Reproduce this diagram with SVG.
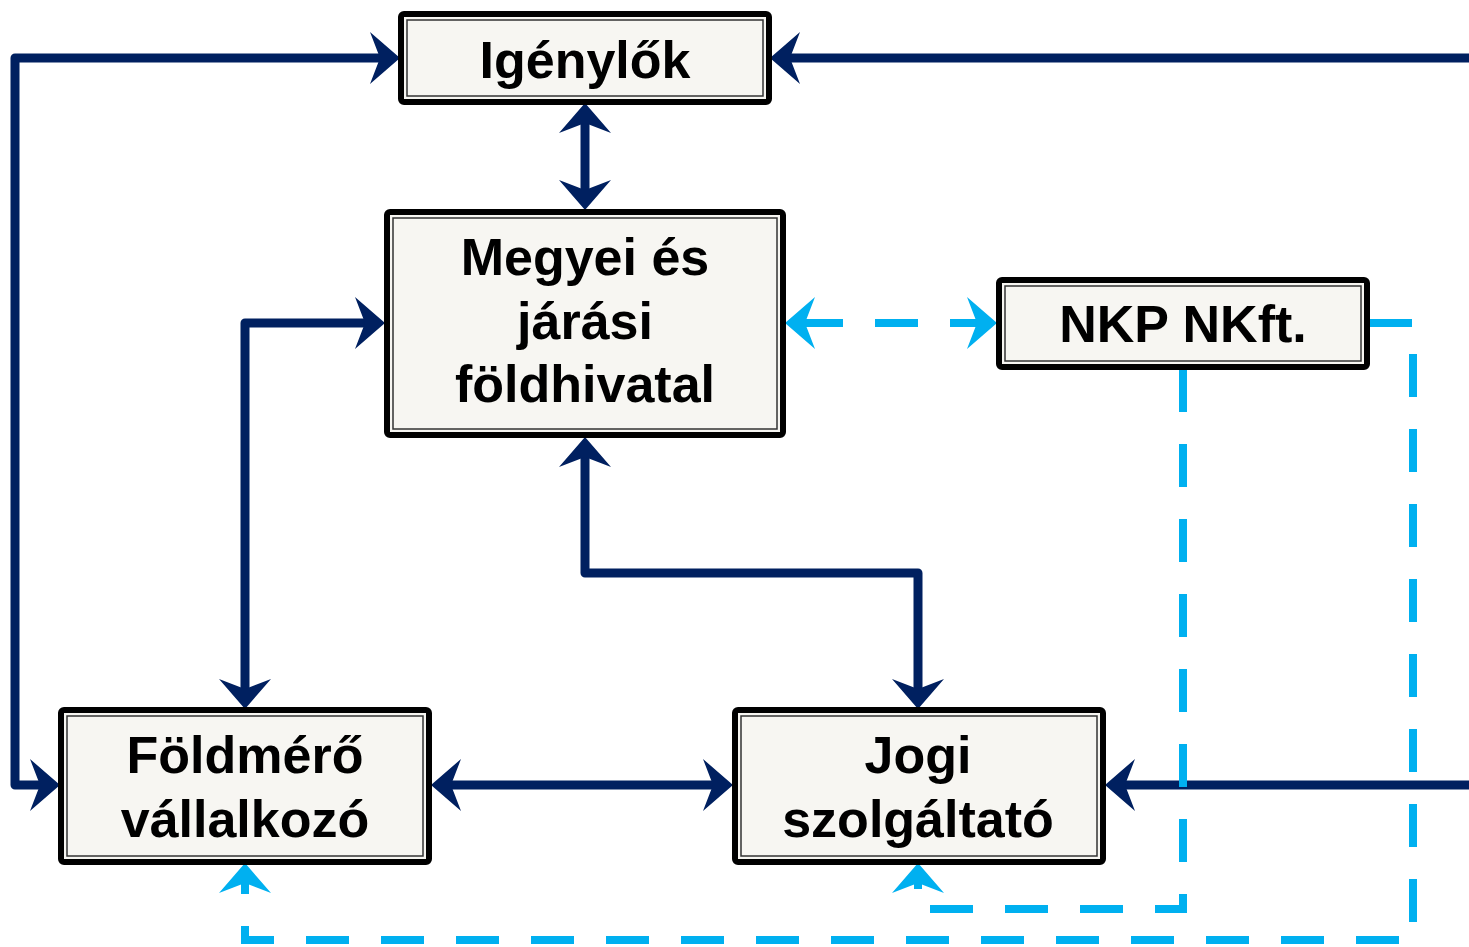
<svg xmlns="http://www.w3.org/2000/svg" width="1469" height="947" viewBox="0 0 1469 947">
<style>
.box{fill:#f7f6f2;stroke:#000;stroke-width:6}
.inner{fill:none;stroke:#333;stroke-width:1.5}
.t{font-family:"Liberation Sans",Arial,sans-serif;font-weight:bold;font-size:52px;fill:#000;text-anchor:middle}
.nv{fill:none;stroke:#002060;stroke-width:9;stroke-linejoin:round;marker-start:url(#an);marker-end:url(#an)}
.nv1{fill:none;stroke:#002060;stroke-width:9;stroke-linejoin:round;marker-end:url(#an)}
.bl{fill:none;stroke:#00b0f0;stroke-width:8;stroke-dasharray:43 32}
</style>
<defs>
<marker id="an" viewBox="-31 -27 32 54" markerWidth="32" markerHeight="54" refX="-15" refY="0" orient="auto-start-reverse" markerUnits="userSpaceOnUse">
<path d="M0,0 L-30,-26 L-20,0 L-30,26 Z" fill="#002060"/>
</marker>
<marker id="ab" viewBox="-31 -27 32 54" markerWidth="32" markerHeight="54" refX="-15" refY="0" orient="auto-start-reverse" markerUnits="userSpaceOnUse">
<path d="M0,0 L-30,-26 L-20,0 L-30,26 Z" fill="#00b0f0"/>
</marker>
</defs>
<g id="connectors">
<path class="nv" d="M385,58 H15 V785 H45"/>
<path class="nv1" d="M1469,58 H785"/>
<path class="nv" d="M585,118 V195"/>
<path class="nv" d="M370,323 H245 V694"/>
<path class="nv" d="M585,452 V573 H918 V694"/>
<path class="nv" d="M446,785 H718"/>
<path class="nv1" d="M1469,785 H1120"/>
<path class="bl" d="M800,323 H982" marker-start="url(#ab)" marker-end="url(#ab)"/>
<path class="bl" d="M1369,323 H1413 V940 H245 V878" marker-end="url(#ab)"/>
<path class="bl" d="M1183,369 V909 H918 V878" marker-end="url(#ab)"/>
</g>
<g id="igenylok">
<rect class="box" x="401" y="14" width="368" height="88" rx="3"/>
<rect class="inner" x="407" y="20" width="356" height="76"/>
<text class="t" x="585" y="78">Igénylők</text>
</g>
<g id="megyei">
<rect class="box" x="387" y="212" width="396" height="223" rx="3"/>
<rect class="inner" x="393" y="218" width="384" height="211"/>
<text class="t" x="585" y="275">Megyei és</text>
<text class="t" x="585" y="339">járási</text>
<text class="t" x="585" y="402">földhivatal</text>
</g>
<g id="nkp">
<rect class="box" x="999" y="280" width="368" height="87" rx="3"/>
<rect class="inner" x="1005" y="286" width="356" height="75"/>
<text class="t" x="1183" y="342">NKP NKft.</text>
</g>
<g id="foldmero">
<rect class="box" x="61" y="710" width="368" height="152" rx="3"/>
<rect class="inner" x="67" y="716" width="356" height="140"/>
<text class="t" x="245" y="773">Földmérő</text>
<text class="t" x="245" y="837">vállalkozó</text>
</g>
<g id="jogi">
<rect class="box" x="735" y="710" width="368" height="152" rx="3"/>
<rect class="inner" x="741" y="716" width="356" height="140"/>
<text class="t" x="918" y="773">Jogi</text>
<text class="t" x="918" y="837">szolgáltató</text>
</g>
</svg>
